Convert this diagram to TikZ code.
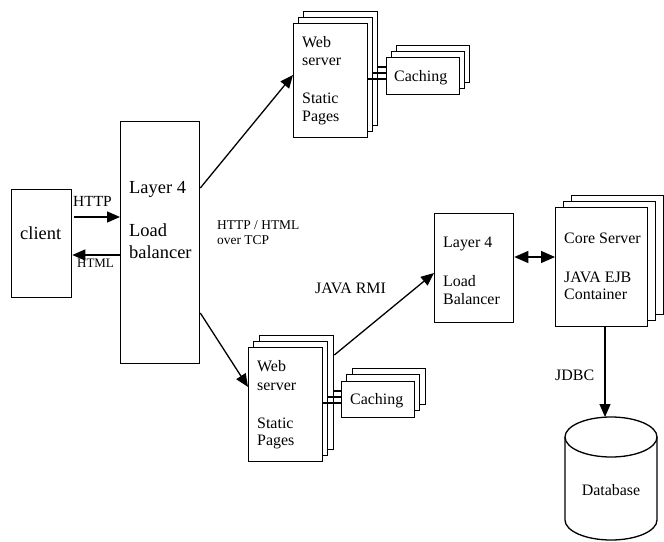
\documentclass[tikz,border=0pt]{standalone}
\usepackage{fontspec}
\setmainfont{Liberation Serif}
\usetikzlibrary{arrows.meta}
\begin{document}
\begin{tikzpicture}[x=1bp,y=-1bp,
  box/.style={draw, line width=1.3bp, fill=white, inner sep=0pt, anchor=north west},
  txt/.style={inner sep=0pt, anchor=base west, font=\fontsize{16}{19}\selectfont},
  bigtxt/.style={inner sep=0pt, anchor=base west, font=\fontsize{18.5}{22}\selectfont},
  smalltxt/.style={inner sep=0pt, anchor=base west, font=\fontsize{13.5}{16}\selectfont},
  link/.style={line width=1.3bp},
  arr/.style={line width=1.3bp, -{Triangle[length=13bp,width=11bp]}},
  darr/.style={line width=1.3bp, {Triangle[length=14bp,width=12bp]}-{Triangle[length=14bp,width=12bp]}}
]
\useasboundingbox (0,0) rectangle (664,542);

% client and first load balancer
\node[box, minimum width=60bp, minimum height=108bp] (client) at (11,189) {};
\node[bigtxt] (clientt) at (20,240) {client};
\node[box, minimum width=79bp, minimum height=242bp] (lb) at (120,121) {};
\node[bigtxt] (lbt1) at (129,194) {Layer 4};
\node[bigtxt] (lbt2) at (129,237) {Load};
\node[bigtxt] (lbt3) at (129,259) {balancer};

% upper web server stack
\node[box, minimum width=74bp, minimum height=114bp] (ws1c) at (303,11) {};
\node[box, minimum width=74bp, minimum height=114bp] (ws1b) at (298,17) {};
\node[box, minimum width=74bp, minimum height=114bp] (ws1a) at (293,23) {};
\node[txt] (ws1t1) at (302,48) {Web};
\node[txt] (ws1t2) at (302,66) {server};
\node[txt] (ws1t3) at (302,104) {Static};
\node[txt] (ws1t4) at (302,122) {Pages};

% upper caching stack
\node[box, minimum width=73bp, minimum height=37bp] (ca1c) at (396,45) {};
\node[box, minimum width=73bp, minimum height=37bp] (ca1b) at (391,51) {};
\node[box, minimum width=73bp, minimum height=37bp] (ca1a) at (386,57) {};
\node[txt] (ca1t) at (394,82) {Caching};

% lower web server stack
\node[box, minimum width=74bp, minimum height=114bp] (ws2c) at (259,335) {};
\node[box, minimum width=74bp, minimum height=114bp] (ws2b) at (253,341) {};
\node[box, minimum width=74bp, minimum height=114bp] (ws2a) at (248,347) {};
\node[txt] (ws2t1) at (257,371) {Web};
\node[txt] (ws2t2) at (257,390) {server};
\node[txt] (ws2t3) at (257,428) {Static};
\node[txt] (ws2t4) at (257,445) {Pages};

% lower caching stack
\node[box, minimum width=73bp, minimum height=36bp] (ca2c) at (352,368) {};
\node[box, minimum width=73bp, minimum height=36bp] (ca2b) at (346,374) {};
\node[box, minimum width=73bp, minimum height=36bp] (ca2a) at (341,381) {};
\node[txt] (ca2t) at (350,404) {Caching};

% second load balancer
\node[box, minimum width=79bp, minimum height=109bp] (lb2) at (434,213) {};
\node[txt] (lb2t1) at (443,248) {Layer 4};
\node[txt] (lb2t2) at (443,286) {Load};
\node[txt] (lb2t3) at (443,304) {Balancer};

% core server stack
\node[box, minimum width=92bp, minimum height=119bp] (corec) at (571,195) {};
\node[box, minimum width=92bp, minimum height=119bp] (coreb) at (563,201) {};
\node[box, minimum width=92bp, minimum height=119bp] (core) at (555,207) {};
\node[txt] (coret1) at (564,244) {Core Server};
\node[txt] (coret2) at (564,282) {JAVA EJB};
\node[txt] (coret3) at (564,299) {Container};

% database cylinder
\draw[line width=1.3bp, fill=white] (565,437) -- (565,520)
   arc[start angle=180, end angle=360, x radius=46bp, y radius=20bp] -- (657,437);
\draw[line width=1.3bp] (611,437) ellipse[x radius=46bp, y radius=20bp];
\coordinate (dbtop) at (605,417);
\node[txt, anchor=base] (dbt) at (611,495) {Database};

% labels
\node[smalltxt, font=\fontsize{15.5}{18}\selectfont] (lhttp) at (73,207) {HTTP};
\node[smalltxt, font=\fontsize{13}{16}\selectfont] (lhtml) at (77,267) {HTML};
\node[smalltxt] (lover1) at (217,230) {HTTP / HTML};
\node[smalltxt] (lover2) at (217,245) {over TCP};
\node[txt] (lrmi) at (315,293) {JAVA RMI};
\node[txt] (ljdbc) at (555,380) {JDBC};

% connectors
\draw[arr] (client.east |- 0,217) ++(2,0) -- (lb.west |- 0,217);
\draw[arr] (lb.west |- 0,255) -- (client.east |- 0,255);
\draw[arr] (lb.east |- 0,188) -- (ws1a.west |- 0,75);
\draw[arr] (lb.east |- 0,313) -- (ws2a.west |- 0,387);
\draw[arr] (ws2c.east |- 0,355) -- (lb2.west |- 0,273);
\draw[darr] (lb2.east |- 0,257) -- (core.west |- 0,257);
\draw[arr] (605,326) -- (dbtop);

% links between web servers and caches
\draw[link] (ws1a.east |- 0,79) -- (ca1a.west |- 0,79);
\draw[link] (ws1b.east |- 0,73) -- (ca1a.west |- 0,73);
\draw[link] (ws1c.east |- 0,67) -- (ca1a.west |- 0,67);
\draw[link] (ws2a.east |- 0,403) -- (ca2a.west |- 0,403);
\draw[link] (ws2b.east |- 0,397) -- (ca2a.west |- 0,397);
\draw[link] (ws2c.east |- 0,391) -- (ca2a.west |- 0,391);
\end{tikzpicture}
\end{document}
